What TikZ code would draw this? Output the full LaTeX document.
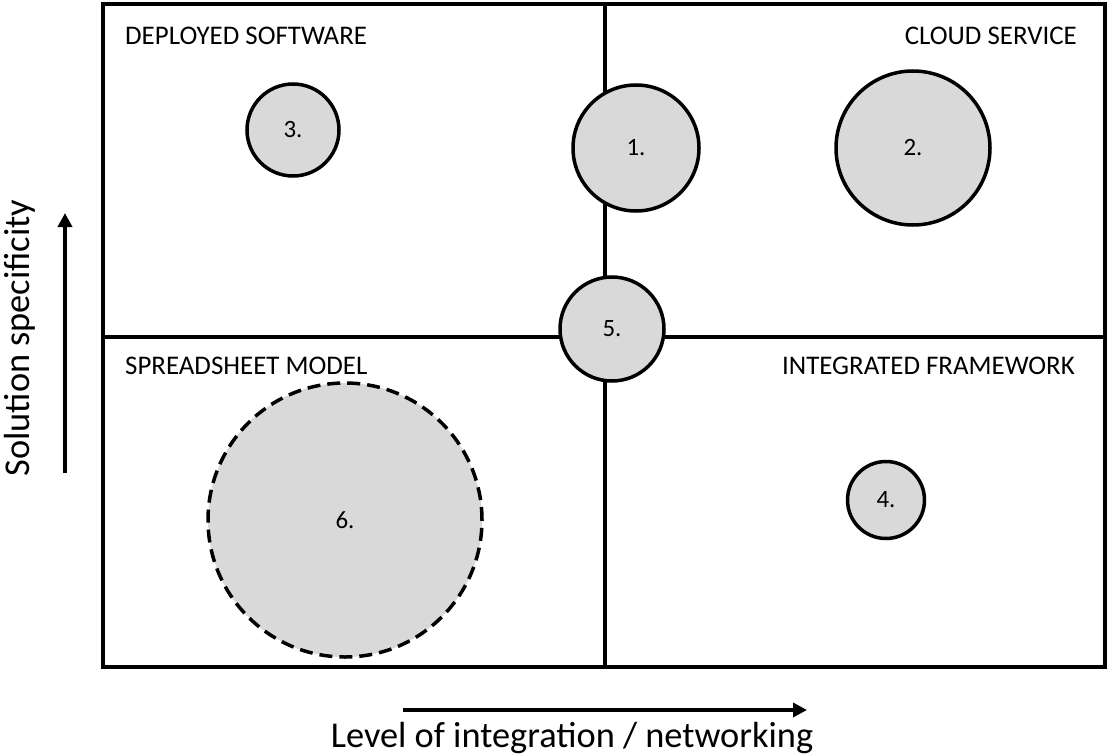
\documentclass[tikz,border=0pt]{standalone}
\usepackage{fontspec}
\setmainfont{Carlito}
\usetikzlibrary{arrows.meta}

\definecolor{bubblegray}{HTML}{D9D9D9}
\tikzset{
  bubble/.style={circle, draw=black, line width=3.5bp, fill=bubblegray,
    inner sep=0pt, font=\fontsize{25}{30}\selectfont},
  quadlabel/.style={font=\fontsize{27}{32}\selectfont, inner sep=0pt},
  axislabel/.style={font=\fontsize{36.5}{42}\selectfont, inner sep=0pt},
  axisarrow/.style={line width=3.5bp, -{Triangle[length=14bp,width=14bp]}}
}

\begin{document}
\begin{tikzpicture}[x=1bp, y=-1bp]
  \useasboundingbox (0,0) rectangle (1110,756);
  % quadrant frame
  \draw [line width=4bp] (103,4) rectangle (1105,667);
  \draw [line width=3.5bp] (605,4) -- (605,667);
  \draw [line width=3.5bp] (103,337) -- (1105,337);
  % quadrant names
  \node [quadlabel, anchor=west] (dep) at (125,36) {DEPLOYED SOFTWARE};
  \node [quadlabel, anchor=east] (cloud) at (1077,36) {CLOUD SERVICE};
  \node [quadlabel, anchor=west] (sheet) at (125,366) {SPREADSHEET MODEL};
  \node [quadlabel, anchor=east] (frame) at (1075,366) {INTEGRATED FRAMEWORK};
  % bubbles
  \node [bubble, minimum size=92bp] (b3) at (293,130) {3.};
  \node [bubble, minimum size=126bp] (b1) at (636,148) {1.};
  \node [bubble, minimum size=154bp] (b2) at (913,148) {2.};
  \node [bubble, minimum size=104bp] (b5) at (612,329) {5.};
  \node [bubble, minimum size=77bp] (b4) at (886,500) {4.};
  \node [bubble, draw=none, minimum size=274bp] (b6) at (345,520) {6.};
  \draw [line width=3.5bp, dash pattern=on 13bp off 7bp] (b6.center) circle (137bp);
  % axes
  \coordinate (ylo) at (65,473);
  \coordinate (yhi) at (65,213);
  \coordinate (xlo) at (403,710);
  \coordinate (xhi) at (807,710);
  \draw [axisarrow] (ylo) -- (yhi);
  \draw [axisarrow] (xlo) -- (xhi);
  \node [axislabel, rotate=90] (ylab) at (20,338) {Solution specificity};
  \node [axislabel] (xlab) at (572,738) {Level of integration / networking};
\end{tikzpicture}
\end{document}
